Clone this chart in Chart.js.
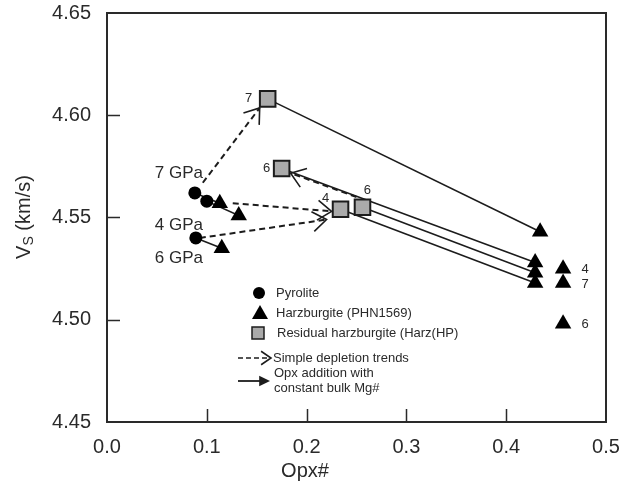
<!DOCTYPE html>
<html>
<head>
<meta charset="utf-8">
<script src="https://cdn.jsdelivr.net/npm/chart.js@4"></script>
<style>
  html, body { margin: 0; padding: 0; background: #fff; }
  canvas { display: block; }
</style>
</head>
<body>
<canvas id="vsChart" width="619" height="484"></canvas>
<script>
// Pyrolite at 7, 4 and 6 GPa
var pyroliteX = [0.088, 0.100, 0.089];
var pyroliteY = [4.562, 4.558, 4.540];
var pyroliteGPa = ['7 GPa', '4 GPa', '6 GPa'];

// Harzburgite (PHN1569)
var harzX = [0.113, 0.132, 0.115, 0.434, 0.429, 0.429, 0.429, 0.457, 0.457, 0.457];
var harzY = [4.557, 4.551, 4.535, 4.543, 4.528, 4.523, 4.518, 4.525, 4.518, 4.498];
var harzGPa = ['', '', '', '', '', '', '', '4', '7', '6'];

// Residual harzburgite (Harz(HP))
var residualX = [0.161, 0.175, 0.234, 0.256];
var residualY = [4.608, 4.574, 4.554, 4.555];
var residualGPa = ['7', '6', '4', '6'];

// Simple depletion trends: [x0, y0, x1, y1]
var depletionTrends = [
  [0.096, 4.567, 0.153, 4.6036],
  [0.126, 4.557, 0.225, 4.553],
  [0.093, 4.540, 0.220, 4.549],
  [0.250, 4.560, 0.184, 4.5717]
];

// Opx addition with constant bulk Mg#: [x0, y0, x1, y1]
var opxTrends = [
  [0.088, 4.562, 0.113, 4.557],
  [0.100, 4.558, 0.132, 4.551],
  [0.089, 4.540, 0.115, 4.535],
  [0.161, 4.608, 0.434, 4.543],
  [0.175, 4.574, 0.429, 4.528],
  [0.256, 4.555, 0.429, 4.523],
  [0.234, 4.554, 0.429, 4.518]
];

var xTicksMin = 0, xTicksMax = 0.5, xStep = 0.1;
var yTicksMin = 4.45, yTicksMax = 4.65, yStep = 0.05;

var INK = '#1c1c1c';
var TEXT = '#2a2a2a';
var FONT = '"Liberation Sans", Arial, sans-serif';

function pts(xs, ys) {
  return xs.map(function(x, i) { return { x: x, y: ys[i] }; });
}

var datasets = [];

depletionTrends.forEach(function(t) {
  datasets.push({
    data: [{ x: t[0], y: t[1] }, { x: t[2], y: t[3] }],
    showLine: true, pointRadius: 0, borderColor: INK, borderWidth: 2,
    borderDash: [6, 4], order: 3
  });
});
opxTrends.forEach(function(t) {
  datasets.push({
    data: [{ x: t[0], y: t[1] }, { x: t[2], y: t[3] }],
    showLine: true, pointRadius: 0, borderColor: INK, borderWidth: 1.6, order: 2
  });
});

datasets.push({
  label: 'Pyrolite', data: pts(pyroliteX, pyroliteY),
  pointStyle: 'circle', pointRadius: 6.5, backgroundColor: '#000', borderColor: '#000',
  borderWidth: 0, order: 0
});
datasets.push({
  label: 'Harzburgite (PHN1569)', data: pts(harzX, harzY),
  pointStyle: 'triangle', pointRadius: 9.5, backgroundColor: '#000', borderColor: '#000',
  borderWidth: 0, order: 0
});
datasets.push({
  label: 'Residual harzburgite (Harz(HP)', data: pts(residualX, residualY),
  pointStyle: 'rect', pointRadius: 11, backgroundColor: '#aaaaaa', borderColor: INK,
  borderWidth: 2, order: 0
});

// open ">" head for dashed trends, filled head for opx trends
function arrowHead(ctx, x0, y0, x1, y1, len, half, filled) {
  var a = Math.atan2(y1 - y0, x1 - x0);
  ctx.save();
  ctx.setLineDash([]);
  ctx.beginPath();
  ctx.moveTo(x1 - len * Math.cos(a - half), y1 - len * Math.sin(a - half));
  ctx.lineTo(x1, y1);
  ctx.lineTo(x1 - len * Math.cos(a + half), y1 - len * Math.sin(a + half));
  if (filled) {
    ctx.closePath();
    ctx.fillStyle = INK;
    ctx.fill();
  } else {
    ctx.strokeStyle = INK;
    ctx.lineWidth = 1.6;
    ctx.stroke();
  }
  ctx.restore();
}

var decorPlugin = {
  id: 'decor',
  afterDatasetsDraw: function(chart) {
    var ctx = chart.ctx;
    var xs = chart.scales.x, ys = chart.scales.y;
    var area = chart.chartArea;
    function px(v) { return xs.getPixelForValue(v); }
    function py(v) { return ys.getPixelForValue(v); }

    ctx.save();

    // arrow heads
    depletionTrends.forEach(function(t) {
      arrowHead(ctx, px(t[0]), py(t[1]), px(t[2]), py(t[3]), 17, 0.62, false);
    });

    // frame
    ctx.strokeStyle = '#2a2a2a';
    ctx.lineWidth = 2;
    ctx.strokeRect(area.left, area.top, area.right - area.left, area.bottom - area.top);

    // inward ticks
    ctx.lineWidth = 1.5;
    ctx.beginPath();
    xs.ticks.forEach(function(t) {
      if (t.value <= xTicksMin + 1e-9 || t.value >= xTicksMax - 1e-9) return;
      var x = Math.round(px(t.value)) + 0.5;
      ctx.moveTo(x, area.bottom);
      ctx.lineTo(x, area.bottom - 13);
    });
    ys.ticks.forEach(function(t) {
      if (t.value <= yTicksMin + 1e-9 || t.value >= yTicksMax - 1e-9) return;
      var y = Math.round(py(t.value)) + 0.5;
      ctx.moveTo(area.left, y);
      ctx.lineTo(area.left + 13, y);
    });
    ctx.stroke();

    // point labels
    ctx.fillStyle = TEXT;
    ctx.textBaseline = 'middle';
    ctx.textAlign = 'left';
    ctx.font = '17px ' + FONT;
    var gpaOffsets = [[-40, -20], [-52, 24], [-41, 20]];
    pyroliteGPa.forEach(function(s, i) {
      ctx.fillText(s, px(pyroliteX[i]) + gpaOffsets[i][0], py(pyroliteY[i]) + gpaOffsets[i][1]);
    });

    ctx.font = '13px ' + FONT;
    ctx.textAlign = 'center';
    var resOffsets = [[-19, 0], [-15, 0], [-15, -11], [5, -17]];
    residualGPa.forEach(function(s, i) {
      ctx.fillText(s, px(residualX[i]) + resOffsets[i][0], py(residualY[i]) + resOffsets[i][1]);
    });
    harzGPa.forEach(function(s, i) {
      if (!s) return;
      ctx.fillText(s, px(harzX[i]) + 22, py(harzY[i]) + 1);
    });

    // legend
    ctx.textAlign = 'left';
    ctx.fillStyle = '#000';
    ctx.beginPath();
    ctx.arc(259, 293, 6, 0, Math.PI * 2);
    ctx.fill();
    ctx.beginPath();
    ctx.moveTo(260, 305);
    ctx.lineTo(268, 319);
    ctx.lineTo(252, 319);
    ctx.closePath();
    ctx.fill();
    ctx.fillStyle = '#aaaaaa';
    ctx.fillRect(252, 327, 12, 12);
    ctx.strokeStyle = INK;
    ctx.lineWidth = 1.5;
    ctx.strokeRect(252, 327, 12, 12);

    ctx.save();
    ctx.lineWidth = 1.6;
    ctx.setLineDash([5, 3]);
    ctx.beginPath();
    ctx.moveTo(238, 358);
    ctx.lineTo(270, 358);
    ctx.stroke();
    ctx.restore();
    arrowHead(ctx, 238, 358, 271, 358, 12, 0.6, false);

    ctx.lineWidth = 1.8;
    ctx.beginPath();
    ctx.moveTo(238, 381);
    ctx.lineTo(262, 381);
    ctx.stroke();
    arrowHead(ctx, 238, 381, 270, 381, 12, 0.45, true);

    ctx.fillStyle = TEXT;
    ctx.font = '13px ' + FONT;
    ctx.fillText('Pyrolite', 276, 293);
    ctx.fillText('Harzburgite (PHN1569)', 276, 313);
    ctx.fillText('Residual harzburgite (Harz(HP)', 277, 333);
    ctx.fillText('Simple depletion trends', 273, 358);
    ctx.fillText('Opx addition with', 274, 373);
    ctx.fillText('constant bulk Mg#', 274, 388);

    // axis titles
    ctx.font = '20px ' + FONT;
    ctx.textAlign = 'center';
    ctx.fillText('Opx#', 305, 471);

    ctx.save();
    ctx.translate(24, 217);
    ctx.rotate(-Math.PI / 2);
    ctx.textAlign = 'left';
    var wV = ctx.measureText('V').width;
    ctx.font = '14px ' + FONT;
    var wS = ctx.measureText('S').width;
    ctx.font = '20px ' + FONT;
    var wRest = ctx.measureText(' (km/s)').width;
    var x0 = -(wV + wS + wRest) / 2;
    ctx.fillText('V', x0, 0);
    ctx.font = '14px ' + FONT;
    ctx.fillText('S', x0 + wV, 5);
    ctx.font = '20px ' + FONT;
    ctx.fillText(' (km/s)', x0 + wV + wS, 0);
    ctx.restore();

    ctx.restore();
  }
};

new Chart(document.getElementById('vsChart'), {
  type: 'scatter',
  data: { datasets: datasets },
  plugins: [decorPlugin],
  options: {
    responsive: false,
    animation: false,
    layout: { padding: { top: 13, right: 13, left: 0, bottom: 0 } },
    plugins: {
      legend: { display: false },
      tooltip: { enabled: false }
    },
    scales: {
      x: {
        type: 'linear', min: xTicksMin, max: xTicksMax,
        grid: { display: false, drawTicks: false },
        border: { display: false },
        ticks: {
          stepSize: xStep, padding: 13, color: TEXT,
          font: { family: FONT, size: 20 },
          callback: function(v) { return Number(v).toFixed(1); }
        },
        afterFit: function(s) {
          s.height = 62;
          s.paddingLeft = 0;
          s.paddingRight = 0;
        }
      },
      y: {
        type: 'linear', min: yTicksMin, max: yTicksMax,
        grid: { display: false, drawTicks: false },
        border: { display: false },
        ticks: {
          stepSize: yStep, padding: 16, color: TEXT,
          font: { family: FONT, size: 20 },
          callback: function(v) { return Number(v).toFixed(2); }
        },
        afterFit: function(s) {
          s.width = 107;
          s.paddingTop = 0;
          s.paddingBottom = 0;
        }
      }
    }
  }
});
</script>
</body>
</html>
